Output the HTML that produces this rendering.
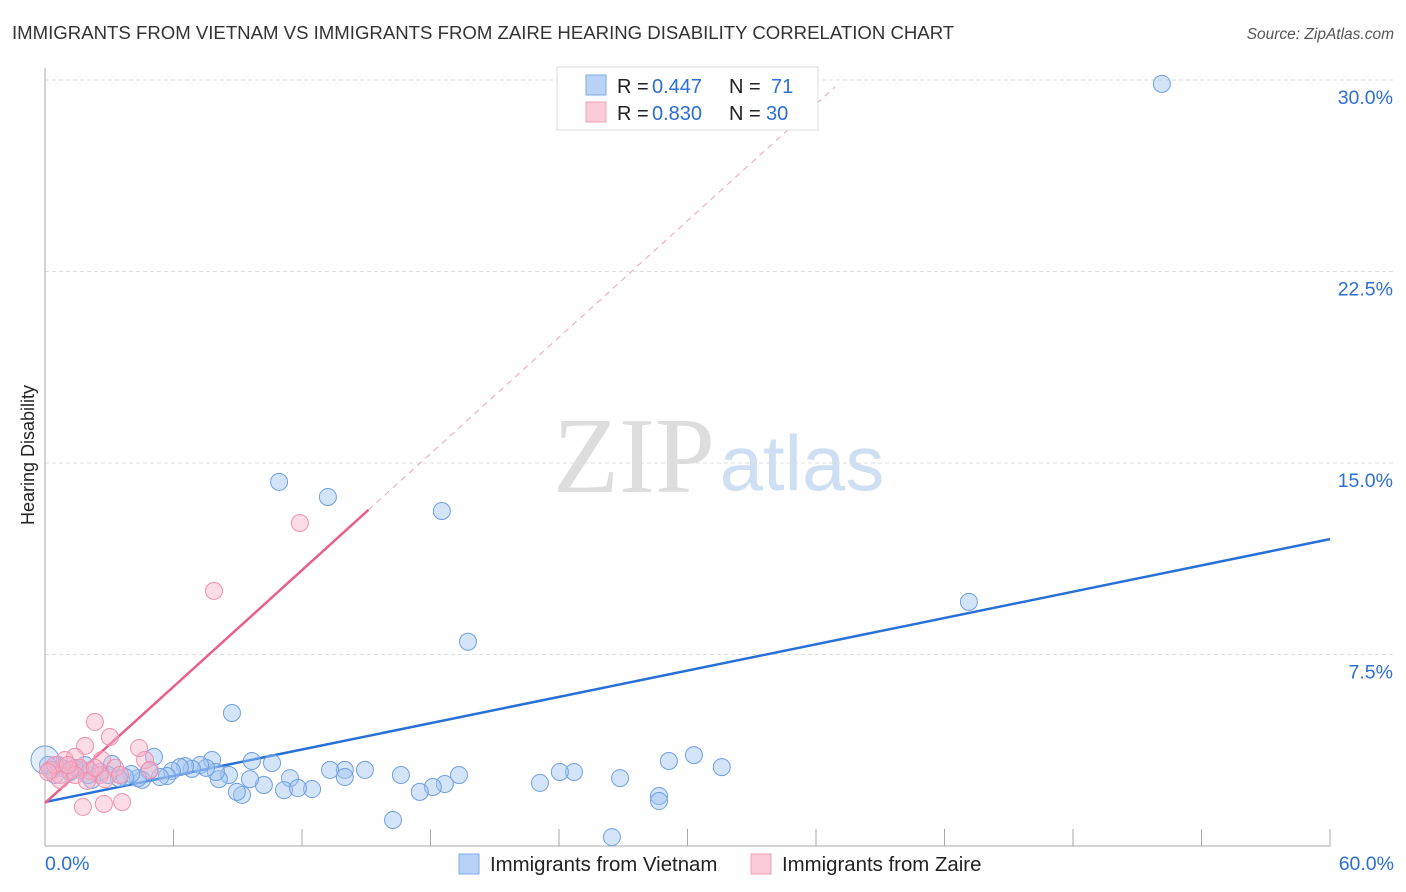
<!DOCTYPE html>
<html><head><meta charset="utf-8"><style>
body{margin:0;background:#fff;font-family:"Liberation Sans",sans-serif;}
svg{display:block}
</style></head><body>
<svg id="chart" width="1406" height="892" xmlns="http://www.w3.org/2000/svg">
<text x="12" y="39" font-size="18.6" fill="#333">IMMIGRANTS FROM VIETNAM VS IMMIGRANTS FROM ZAIRE HEARING DISABILITY CORRELATION CHART</text>
<text x="1394" y="39" font-size="15.5" fill="#555" font-style="italic" text-anchor="end">Source: ZipAtlas.com</text>
<text x="634" y="492" font-size="108" fill="#ddd" font-family="Liberation Serif,serif" text-anchor="middle">ZIP</text>
<text x="802" y="490" font-size="78" fill="#cfdff3" text-anchor="middle">atlas</text>
<text x="34" y="455" font-size="18" fill="#222" text-anchor="middle" transform="rotate(-90 34 455)">Hearing Disability</text>
<g id="grid"></g><g id="axes"></g><g id="lines"></g><g id="pts"></g>
<g>
<rect x="557" y="67" width="261" height="63" fill="#fff" stroke="#ddd"/>
<rect x="586" y="75" width="20" height="20" fill="#b8d3f5" stroke="#7fa8e2"/>
<text x="617" y="93" font-size="20" fill="#222">R =</text><text x="652" y="93" font-size="20" fill="#2b6fd6">0.447</text>
<text x="729" y="93" font-size="20" fill="#222">N =</text><text x="771" y="93" font-size="20" fill="#2b6fd6">71</text>
<rect x="586" y="102" width="20" height="20" fill="#f9ccd8" stroke="#f0a0b8"/>
<text x="617" y="120" font-size="20" fill="#222">R =</text><text x="652" y="120" font-size="20" fill="#2b6fd6">0.830</text>
<text x="729" y="120" font-size="20" fill="#222">N =</text><text x="766" y="120" font-size="20" fill="#2b6fd6">30</text>
</g>
<g>
<rect x="459" y="854" width="20" height="20" fill="#b8d3f5" stroke="#7fa8e2"/>
<text x="490" y="871" font-size="20.4" fill="#222">Immigrants from Vietnam</text>
<rect x="751" y="854" width="20" height="20" fill="#f9ccd8" stroke="#f0a0b8"/>
<text x="782" y="871" font-size="20.4" fill="#222">Immigrants from Zaire</text>
</g>
</svg>
<script>
const yTicks=[7.5,15,22.5,30];
const yTickLabels=["7.5%","15.0%","22.5%","30.0%"];
const xTickLabels=["0.0%","60.0%"];
const vietX=[52.15,10.93,13.21,18.53,43.14,19.75,8.73,30.3,29.13,31.6,26.85,23.11,24.7,24.04,19.33,18.67,18.11,16.62,17.5,16.25,26.47,28.67,28.67,14.94,14.0,14.0,13.31,12.47,11.44,11.16,11.81,10.6,10.22,9.66,9.57,9.2,8.96,8.59,8.12,7.8,7.98,7.52,7.24,6.86,6.54,6.3,5.93,5.7,5.37,5.09,4.86,4.53,4.34,4.02,3.73,3.45,3.13,2.94,2.57,2.19,2.01,1.63,1.4,1.17,0.79,0.61,0.33,0.14,0.0,0.47,1.87];
const vietY=[29.85,14.26,13.67,13.12,9.56,8.0,5.21,3.56,3.33,3.09,2.66,2.47,2.9,2.9,2.78,2.43,2.31,2.78,2.12,1.02,0.35,1.96,1.76,2.98,2.98,2.7,2.98,2.23,2.66,2.19,2.27,3.25,2.39,3.33,2.62,2.0,2.12,2.78,2.62,3.37,2.9,3.06,3.17,3.02,3.13,3.09,2.94,2.74,2.7,3.49,2.94,2.59,2.66,2.82,2.7,2.66,3.21,2.78,2.9,2.59,2.78,2.98,3.06,2.9,3.06,3.17,2.98,3.17,3.37,2.78,3.17];
const zaireX=[11.9,7.89,2.33,3.03,1.87,4.39,4.67,2.66,1.4,0.93,0.7,0.23,2.1,2.57,1.63,1.17,0.47,1.96,2.8,3.27,1.77,2.75,3.6,4.9,0.7,0.14,3.5,2.33,1.4,1.07];
const zaireY=[12.65,9.99,4.86,4.27,3.92,3.84,3.37,3.37,3.49,3.37,2.78,2.98,2.94,2.78,3.06,2.98,3.17,2.55,2.62,3.06,1.53,1.65,1.72,2.98,2.59,2.9,2.78,3.06,2.78,3.17];
const vietTrend=[1.72,12.02];
const zaireTrend=[1.68,13.16];
const zaireEndX=15.1;
const X0=45,X1=1330,Y0=846,Y1=80;
const sx=v=>X0+(v/60)*(X1-X0);
const sy=v=>Y0-(v/30)*(Y0-Y1);
const NS="http://www.w3.org/2000/svg";
function mk(t,a,p){const e=document.createElementNS(NS,t);for(const k in a)e.setAttribute(k,a[k]);p.appendChild(e);return e;}
const grid=document.getElementById('grid'),axes=document.getElementById('axes'),lines=document.getElementById('lines'),pts=document.getElementById('pts');
yTicks.forEach((t,i)=>{
 const l=mk('line',{x1:X0,x2:1394,y1:sy(t),y2:sy(t),stroke:'#ddd','stroke-dasharray':'4,3'},grid);
 
 
 const tx=mk('text',{x:1393,y:sy(t)+24,'font-size':19.5,fill:'#2b6fd6','text-anchor':'end'},grid);
 tx.textContent=yTickLabels[i];
 
 
});
const ya=mk('line',{x1:X0,x2:X0,y1:68,y2:Y0,stroke:'#aaa'},axes);


const xa=mk('line',{x1:X0,x2:X1,y1:Y0,y2:Y0,stroke:'#aaa'},axes);


for(let i=1;i<=10;i++){
 const t=mk('line',{x1:sx(i*6),x2:sx(i*6),y1:Y0-17,y2:Y0,stroke:'#aaa'},axes);
 
 
}
[[0,'start',45],[60,'end',1394]].forEach((d,i)=>{
 const t=mk('text',{x:d[2],y:870,'font-size':19.5,fill:'#2b6fd6','text-anchor':d[1]},axes);
 t.textContent=xTickLabels[i];
 
 
});
const slope=(zaireTrend[1]-zaireTrend[0])/zaireEndX;
const dash=mk('line',{x1:sx(zaireEndX),y1:sy(zaireTrend[1]),x2:sx(36.9),y2:sy(zaireTrend[0]+slope*36.9),stroke:'#f0a0b8','stroke-dasharray':'6,5'},lines);


const vt=mk('line',{x1:sx(0),y1:sy(vietTrend[0]),x2:sx(60),y2:sy(vietTrend[1]),stroke:'#2670d8','stroke-width':2.5},lines);


vietX.forEach((x,i)=>{
 const c=mk('circle',{cx:sx(x),cy:sy(vietY[i]),r:i==68?14:8.5,fill:i==68?'rgba(160,195,240,0.3)':'rgba(160,195,240,0.45)',stroke:'#6f9fe2','stroke-width':1},pts);
 
 
});
zaireX.forEach((x,i)=>{
 const c=mk('circle',{cx:sx(x),cy:sy(zaireY[i]),r:8.5,fill:'rgba(248,178,200,0.45)',stroke:'#ef90ae','stroke-width':1},pts);
 
 
});
const zt=mk('line',{x1:sx(0),y1:sy(zaireTrend[0]),x2:sx(zaireEndX),y2:sy(zaireTrend[1]),stroke:'#e8608a','stroke-width':2.5},lines);


</script>
</body></html>
